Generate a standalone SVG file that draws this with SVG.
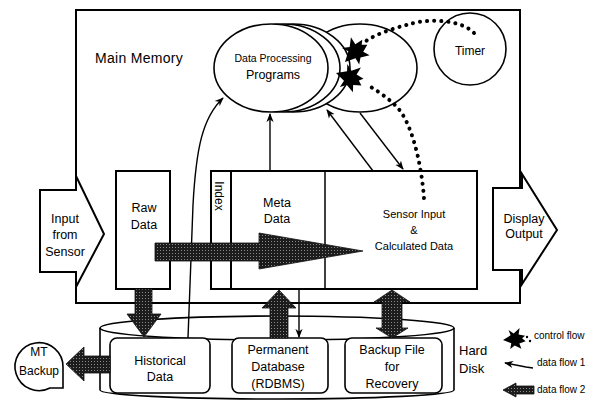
<svg xmlns="http://www.w3.org/2000/svg" width="602" height="401" viewBox="0 0 602 401">
<style>
text{font-family:"Liberation Sans",Arial,sans-serif;fill:#000;text-anchor:middle}
.ln{fill:none;stroke:#000;stroke-width:2}
.bx{fill:#fff;stroke:#000;stroke-width:2}
.th{fill:#fff;stroke:#000;stroke-width:1.6}
.df1{fill:none;stroke:#000;stroke-width:1.4;marker-end:url(#ah)}
.df2{fill:url(#stip);stroke:#111;stroke-width:0.8}
.cf{fill:none;stroke:#000;stroke-width:4;stroke-linecap:round;stroke-dasharray:0.1 7}
.star{fill:#000}
.t12{font-size:12.5px}
</style>
<defs>
<marker id="ah" viewBox="0 0 10 10" refX="9" refY="5" markerWidth="9" markerHeight="9" markerUnits="userSpaceOnUse" orient="auto"><path d="M0,1 L10,5 L0,9 L3,5 Z"/></marker>
<pattern id="stip" width="3" height="3" patternUnits="userSpaceOnUse"><rect width="3" height="3" fill="#1c1c1c"/><rect x="1" y="1" width="1" height="1" fill="#8a8a8a"/></pattern>
<polygon id="burst" points="0,0 10,-5 8,-12 14,-7 22,-13 20,-5 28,-3 24,0 28,4 20,6 22,13 14,8 8,12 10,5"/>
</defs>

<g id="hard-disk">
<path class="th" d="M100,328 L100,390 A177,9 0 0 0 454,390 L454,328"/>
<ellipse class="th" cx="277" cy="328" rx="177" ry="12"/>
<text x="459" y="355" style="font-size:13px;text-anchor:start">Hard</text>
<text x="459" y="373" style="font-size:13px;text-anchor:start">Disk</text>
</g>

<g id="main-memory">
<rect class="ln" x="76" y="10" width="444" height="293"/>
<text x="95" y="63" style="font-size:14px;text-anchor:start;letter-spacing:0.3px">Main Memory</text>
</g>

<g id="input-sensor">
<polygon class="bx" points="40,190 76,190 76,176 104,234 76,287 76,272 40,272"/>
<text class="t12" x="65" y="223">Input</text>
<text class="t12" x="65" y="239">from</text>
<text class="t12" x="65" y="256">Sensor</text>
</g>

<g id="display-output">
<polygon class="bx" points="493,188 522,188 522,174 557,230 522,284 522,270 493,270"/>
<text class="t12" x="524" y="223">Display</text>
<text class="t12" x="524" y="238">Output</text>
</g>

<g id="dp-programs">
<ellipse class="th" cx="360" cy="68" rx="57" ry="44"/>
<ellipse class="th" cx="293" cy="68" rx="57" ry="44"/>
<ellipse class="th" cx="283" cy="68" rx="57" ry="44"/>
<ellipse class="th" cx="271" cy="68" rx="57" ry="44"/>
<text x="273" y="62" style="font-size:10.5px">Data Processing</text>
<text x="273" y="79" style="font-size:12.5px">Programs</text>
</g>

<g id="timer">
<circle class="th" cx="470" cy="49" r="36"/>
<text x="470" y="55" style="font-size:12px">Timer</text>
</g>

<g id="raw-data">
<rect class="bx" x="116" y="171" width="54" height="118"/>
<text class="t12" x="144" y="212">Raw</text>
<text class="t12" x="144" y="229">Data</text>
</g>

<g id="memory-data">
<rect class="bx" x="211" y="171" width="266" height="118"/>
<line class="ln" x1="231" y1="171" x2="231" y2="289"/>
<line x1="325" y1="171" x2="325" y2="289" stroke="#000" stroke-width="1.5"/>
<text transform="translate(214.5,196) rotate(90)" style="font-size:12px">Index</text>
<text class="t12" x="277" y="207">Meta</text>
<text class="t12" x="277" y="223">Data</text>
<text x="414" y="218" style="font-size:11px">Sensor Input</text>
<text x="414" y="234" style="font-size:11px">&amp;</text>
<text x="414" y="250" style="font-size:11px">Calculated Data</text>
</g>

<g id="historical">
<rect class="th" x="110" y="338" width="100" height="55" rx="7"/>
<text class="t12" x="160" y="365">Historical</text>
<text class="t12" x="160" y="381">Data</text>
</g>

<g id="permanent">
<rect class="th" x="232" y="338" width="96" height="55" rx="7"/>
<text class="t12" x="278" y="354">Permanent</text>
<text class="t12" x="278" y="371">Database</text>
<text class="t12" x="278" y="388">(RDBMS)</text>
</g>

<g id="backup">
<rect class="th" x="345" y="338" width="97" height="55" rx="7"/>
<text class="t12" x="392" y="354">Backup File</text>
<text class="t12" x="392" y="371">for</text>
<text class="t12" x="392" y="388">Recovery</text>
</g>

<g id="mt-backup">
<path class="th" d="M63,367 L63,388 L50,388 A24,24 0 1 1 63,367 Z"/>
<text x="39" y="356" style="font-size:12px">MT</text>
<text x="39" y="375" style="font-size:12px">Backup</text>
</g>

<g id="connectors">
<path class="df1" d="M188,338 L193,205 C196,150 202,118 223,98"/>
<path class="df1" d="M270,171 L270,114"/>
<path class="df1" d="M373,171 L327,110"/>
<path class="df1" d="M360,113 L403,169"/>
<path class="df1" d="M299,289 L299,337"/>

<polygon class="df2" points="155,243 259,243 259,233 363,251 259,269 259,261 155,261"/>
<polygon class="df2" points="135,289 152,289 152,314 161,314 144,337 127,314 135,314"/>
<polygon class="df2" points="110,356 84,356 84,347 66,364 84,381 84,373 110,373"/>
<polygon class="df2" points="270,338 270,308 262,308 279,290 296,308 288,308 288,338"/>
<polygon class="df2" points="382,302 374,302 392,290 410,302 402,302 402,328 408,328 392,338 376,328 382,328"/>

<path class="cf" d="M474,33 C462,20 430,18 410,24 C395,28 378,33 366,41"/>
<use href="#burst" class="star" transform="translate(345,62) rotate(-46)"/>
<path class="cf" d="M424,198 C421,160 411,122 397,107 C387,97 376,90 366,84"/>
<use href="#burst" class="star" transform="translate(336,73) rotate(18)"/>
</g>

<g id="legend">
<use href="#burst" class="star" transform="translate(503,340) rotate(-5) scale(0.8)"/>
<circle cx="527" cy="337" r="1.2"/>
<circle cx="530" cy="341" r="1.2"/>
<text x="534" y="339" style="font-size:10px;text-anchor:start">control flow</text>
<path class="df1" d="M533,368 L526,367 L505,363"/>
<text x="537" y="366" style="font-size:10px;text-anchor:start">data flow 1</text>
<polygon class="df2" points="534,386 516,386 516,383 503,390 516,397 516,394 534,394"/>
<text x="537" y="393" style="font-size:10px;text-anchor:start">data flow 2</text>
</g>
</svg>
